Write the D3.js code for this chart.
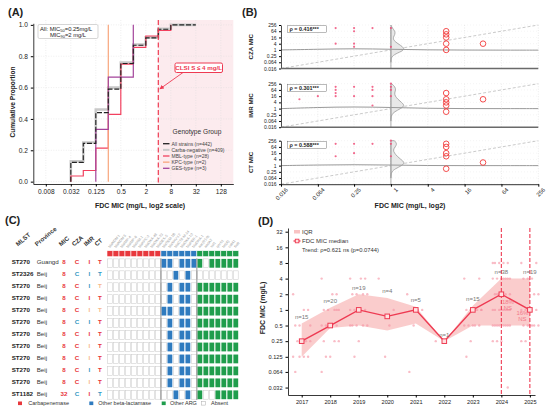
<!DOCTYPE html>
<html>
<head>
<meta charset="utf-8">
<script src="https://cdn.jsdelivr.net/npm/d3@7"></script>
<style>
body { margin: 0; background: #fff; }
svg { font-family: "Liberation Sans", Arial, sans-serif; }
</style>
</head>
<body>
<svg id="fig" width="550" height="411"></svg>
<script>
// ---------- Panel A: cumulative FDC MIC by genotype ----------
const aTickVals = [2 ** -7, 2 ** -5, 2 ** -3, 2 ** -1, 2, 8, 32, 128];
const aTickLabels = ["0.008", "0.032", "0.125", "0.5", "2", "8", "32", "128"];
const micSteps = [0.03125, 0.0625, 0.125, 0.25, 0.5, 1, 2, 4, 8];
const allCum = [0.123, 0.244, 0.44, 0.59, 0.754, 0.87, 0.917, 0.972, 1.0];
const carbaCum = [0.13, 0.25, 0.46, 0.60, 0.76, 0.875, 0.92, 0.975, 1.0];
const mblCum = [0.036, 0.071, 0.214, 0.429, 0.75, 0.857, 0.929, 0.964, 1.0];
const kpcMic = [0.25];
const kpcCum = [1.0];
const gesMic = [0.125, 0.25, 1];
const gesCum = [0.333, 0.667, 1.0];
const groupLabels = ["All strains (n=442)", "Carba-negative (n=409)", "MBL-type (n=28)", "KPC-type (n=2)", "GES-type (n=3)"];

// ---------- Panel B: FDC vs comparators ----------
const bTicks = [0.016, 0.064, 0.25, 1, 4, 16, 64, 256];
const bNames = ["CZA MIC", "IMR MIC", "CT MIC"];
const bRho = ["ρ = 0.416***", "ρ = 0.301***", "ρ = 0.588***"];
const czaDotX = [0.125, 0.125, 0.25, 0.25, 0.25, 0.25, 0.5, 1, 1];
const czaDotY = [128, 4, 128, 64, 4, 2, 128, 128, 2];
const imrDotX = [0.032, 0.064, 0.125, 0.125, 0.125, 0.125, 0.25, 0.25, 0.5, 0.5, 0.5, 0.5, 1, 1, 1, 1];
const imrDotY = [8, 16, 128, 64, 32, 16, 128, 16, 128, 64, 16, 2, 256, 128, 64, 16];
const ctDotX = [0.032, 0.125, 0.125, 0.25, 0.25, 0.5, 1, 1, 1];
const ctDotY = [64, 128, 8, 128, 16, 128, 256, 128, 8];
const czaResX = [8, 8, 8, 8, 8, 32];
const czaResY = [64, 32, 16, 4, 1, 4];
const imrResX = [8, 8, 8, 8, 8, 32];
const imrResY = [32, 8, 4, 2, 0.5, 8];
const ctResX = [8, 8, 8, 8, 8, 32];
const ctResY = [128, 64, 16, 8, 0.5, 2];
const densLevels = [256, 128, 64, 32, 16, 8, 4, 2, 1, 0.5, 0.25, 0.125, 0.064];
const czaDens = [0, 0.1, 0.3, 0.3, 0.15, 0.2, 0.5, 0.85, 1.0, 0.45, 0.08, 0, 0];
const imrDens = [0.05, 0.3, 0.35, 0.25, 0.3, 0.5, 0.75, 1.0, 0.7, 0.25, 0.05, 0, 0];
const ctDens = [0.25, 0.45, 0.3, 0.15, 0.25, 0.45, 0.7, 1.0, 0.8, 0.3, 0.05, 0, 0];
const fitX = [0.016, 0.064, 0.25, 1, 4, 16, 64, 256];
const czaFit = [1.0, 1.15, 1.35, 1.15, 1.0, 0.97, 0.95, 0.95];
const imrFit = [1.0, 1.3, 1.5, 1.3, 1.05, 1.0, 1.0, 1.0];
const ctFit = [1.0, 1.15, 1.25, 1.15, 1.0, 1.0, 1.0, 1.0];

// ---------- Panel C: resistant isolates ----------
const cHeaders = ["MLST", "Province", "MIC", "CZA", "IMR", "CT"];
const genes = ["blaNDM-1", "blaNDM-5", "blaIMP-4", "blaIMP-8", "blaVIM-1", "blaKPC-2", "blaOXA-48", "blaOXA-23", "blaGES-5",
  "blaTEM-1B", "blaSHV-12", "blaCTX-M-14", "blaOXA-10", "blaPER-1", "blaDHA-1",
  "aac(6')-Ib", "aadA2", "sul1", "qnrS1", "tet(A)", "catA1", "floR"];
const geneClass = ["C", "C", "C", "C", "C", "C", "C", "C", "C", "B", "B", "B", "B", "B", "B", "G", "G", "G", "G", "G", "G", "G"];
const mlst = ["ST270", "ST2326", "ST270", "ST270", "ST270", "ST270", "ST270", "ST270", "ST270", "ST270", "ST270", "ST1182"];
const province = ["Guangd", "Beij", "Beij", "Beij", "Beij", "Beij", "Beij", "Beij", "Beij", "Beij", "Beij", "Beij"];
const isoMic = [8, 8, 8, 8, 8, 8, 8, 8, 8, 8, 8, 32];
const czaCall = ["R", "S", "R", "R", "R", "S", "R", "R", "R", "R", "R", "S"];
const imrCall = ["R", "S", "S", "R", "I", "S", "R", "I", "I", "S", "I", "R"];
const ctCall = ["R", "S", "I", "R", "I", "R", "R", "R", "R", "R", "R", "S"];
const geneRows = [
  "000000000" + "110111" + "1011111",
  "000000000" + "001010" + "0000000",
  "000000000" + "010110" + "1111111",
  "000000000" + "010110" + "1111111",
  "000000000" + "110110" + "1111111",
  "000000000" + "010110" + "1111111",
  "000000000" + "010110" + "1111111",
  "000000000" + "010110" + "1111111",
  "000000000" + "010110" + "1111111",
  "000000000" + "010110" + "1111111",
  "000000000" + "010110" + "1111111",
  "000000000" + "001010" + "1001111"
];
const cLegend = ["Carbapenemase", "Other beta-lactamase", "Other ARG", "Absent"];

// ---------- Panel D: yearly trend ----------
const years = [2017, 2018, 2019, 2020, 2021, 2022, 2023, 2024, 2025];
const yearN = [15, 20, 19, 4, 5, 1, 15, 38, 19];
const medianMic = [0.25, 0.5, 1, 0.75, 1, 0.25, 1, 2, 1];
const iqrLow = [0.125, 0.45, 0.5, 0.4, 0.55, 0.25, 0.5, 0.5, 0.5];
const iqrHigh = [0.55, 1.1, 2, 1.7, 1.15, 0.25, 1.2, 4, 4];
const yearPoints = [
  [2, 1, 1, 0.5, 0.5, 0.5, 0.25, 0.25, 0.25, 0.125, 0.125, 0.125, 0.125, 0.064, 0.25],
  [4, 2, 2, 1, 1, 1, 1, 0.5, 0.5, 0.5, 0.5, 0.5, 0.5, 0.25, 0.25, 0.25, 0.125, 0.125, 0.064, 1],
  [4, 4, 4, 2, 2, 2, 2, 1, 1, 1, 1, 1, 0.5, 0.5, 0.5, 0.5, 0.25, 0.125, 0.5],
  [4, 1, 0.5, 0.125],
  [2, 1, 1, 0.5, 0.064],
  [0.25],
  [4, 4, 1, 1, 1, 1, 1, 0.5, 0.5, 0.5, 0.5, 0.5, 0.25, 0.125, 1],
  [8, 8, 8, 8, 8, 4, 4, 4, 4, 4, 4, 4, 2, 2, 2, 2, 2, 2, 1, 1, 1, 1, 1, 1, 1, 1, 0.5, 0.5, 0.5, 0.5, 0.5, 0.5, 0.5, 0.5, 0.25, 0.25, 0.25, 0.032],
  [8, 8, 4, 4, 4, 2, 2, 1, 1, 1, 1, 0.5, 0.5, 0.5, 0.5, 0.5, 0.5, 0.25, 0.25]
];
const dTicks = [0.032, 0.064, 0.125, 0.25, 0.5, 1, 2, 4, 8, 16, 32];
const highlightYears = [2024, 2025];
const highlightPct = ["18%", "16%"];

const RED = "#ee3a52";
const svg = d3.select("#fig");

function label(g, x, y, txt, size, opts = {}) {
  return g.append("text").attr("x", x).attr("y", y)
    .attr("font-size", size)
    .attr("font-weight", opts.bold ? "bold" : null)
    .attr("fill", opts.fill || "#222")
    .attr("text-anchor", opts.anchor || "start")
    .text(txt);
}

// ================= Panel A =================
const gA = svg.append("g");
const aX = d3.scaleLog().base(2).domain([2 ** -8, 2 ** 8]).range([33.3, 233.3]);
const aY = d3.scaleLinear().domain([-0.015, 1.01]).range([184, 23.3]);

gA.append("rect").attr("x", aX(4)).attr("y", 20)
  .attr("width", aX(256) - aX(4)).attr("height", 164).attr("fill", "#fcebee");

gA.selectAll(".vg").data(aTickVals).join("line")
  .attr("x1", d => aX(d)).attr("x2", d => aX(d)).attr("y1", 20).attr("y2", 184)
  .attr("stroke", "#dcdcdc").attr("stroke-width", 0.5).attr("stroke-dasharray", "1,1.5");
gA.selectAll(".hg").data([0, 0.2, 0.4, 0.6, 0.8, 1]).join("line")
  .attr("x1", 33.3).attr("x2", 233.3).attr("y1", d => aY(d)).attr("y2", d => aY(d))
  .attr("stroke", "#dcdcdc").attr("stroke-width", 0.5).attr("stroke-dasharray", "1,1.5");

const yAxA = gA.append("g").attr("transform", "translate(33.3,0)")
  .call(d3.axisLeft(aY).tickValues([0, 0.2, 0.4, 0.6, 0.8, 1]).tickFormat(d3.format(".1f")).tickSize(2.5).tickSizeOuter(0));
const xAxA = gA.append("g").attr("transform", "translate(0,184)")
  .call(d3.axisBottom(aX).tickValues(aTickVals).tickFormat((d, i) => aTickLabels[i]).tickSize(2.5).tickSizeOuter(0));
[yAxA, xAxA].forEach(ax => {
  ax.selectAll("text").attr("font-size", 6.6).attr("fill", "#222");
  ax.select(".domain").attr("stroke", "#222").attr("stroke-width", 0.9);
});

const stepLine = d3.line().x(d => aX(d[0])).y(d => aY(d[1])).curve(d3.curveStepAfter);
function stepPts(mics, cums, endX) {
  const pts = [[mics[0], 0]];
  mics.forEach((m, i) => pts.push([m, cums[i]]));
  if (endX) pts.push([endX, cums[cums.length - 1]]);
  return pts;
}
const aSeries = [
  { pts: stepPts(micSteps, carbaCum, 32), color: "#c9c9c9", w: 2.6, dash: null },
  { pts: stepPts(micSteps, mblCum), color: "#f2415f", w: 1.2, dash: null },
  { pts: stepPts(kpcMic, kpcCum), color: "#f8a57c", w: 1.2, dash: null },
  { pts: stepPts(gesMic, gesCum), color: "#a4449b", w: 1.2, dash: null },
  { pts: stepPts(micSteps, allCum, 32), color: "#222", w: 1.1, dash: "5,1.8" }
];
aSeries.forEach(s => {
  gA.append("path").attr("d", stepLine(s.pts)).attr("fill", "none")
    .attr("stroke", s.color).attr("stroke-width", s.w).attr("stroke-dasharray", s.dash);
});

// CLSI breakpoint
gA.append("line").attr("x1", aX(4)).attr("x2", aX(4)).attr("y1", 20).attr("y2", 184)
  .attr("stroke", RED).attr("stroke-width", 1.2).attr("stroke-dasharray", "5,2.5");
svg.append("defs").append("marker").attr("id", "arr").attr("viewBox", "0 0 10 10")
  .attr("refX", 9).attr("refY", 5).attr("markerWidth", 5).attr("markerHeight", 5).attr("orient", "auto")
  .append("path").attr("d", "M0,0L10,5L0,10z").attr("fill", RED);
gA.append("line").attr("x1", 183).attr("y1", 72.5).attr("x2", aX(4) + 1.5).attr("y2", 89)
  .attr("stroke", RED).attr("stroke-width", 0.9).attr("marker-end", "url(#arr)");
gA.append("rect").attr("x", 175).attr("y", 63).attr("width", 47.5).attr("height", 9.5).attr("rx", 1.5)
  .attr("fill", "#fff").attr("stroke", RED).attr("stroke-width", 1);
label(gA, 198.7, 70.3, "CLSI S ≤ 4 mg/L", 6.2, { bold: true, fill: RED, anchor: "middle" });

// MIC50/90 box
gA.append("rect").attr("x", 38).attr("y", 24.5).attr("width", 60).attr("height", 14).attr("rx", 1.5)
  .attr("fill", "#fff").attr("stroke", "#bbb").attr("stroke-width", 0.6);
const t1 = gA.append("text").attr("x", 40).attr("y", 30.6).attr("font-size", 5.8).attr("fill", "#222");
t1.append("tspan").text("All: MIC");
t1.append("tspan").attr("font-size", 4).attr("dy", 1.2).text("50");
t1.append("tspan").attr("dy", -1.2).text("=0.25mg/L");
const t2 = gA.append("text").attr("x", 68).attr("y", 36.8).attr("font-size", 5.8).attr("fill", "#222").attr("text-anchor", "middle");
t2.append("tspan").text("MIC");
t2.append("tspan").attr("font-size", 4).attr("dy", 1.2).text("90");
t2.append("tspan").attr("dy", -1.2).text("=2 mg/L");

// legend
label(gA, 197, 133.5, "Genotype Group", 6.6, { fill: "#333", anchor: "middle" });
const legOrder = [4, 0, 1, 2, 3];
legOrder.forEach((si, i) => {
  const s = aSeries[si];
  const y = 143.7 + i * 6.15;
  gA.append("line").attr("x1", 163).attr("x2", 169.5).attr("y1", y).attr("y2", y)
    .attr("stroke", s.color).attr("stroke-width", si === 0 ? 2 : 1.3);
  label(gA, 171.5, y + 1.8, groupLabels[i], 5, { fill: "#444" });
});

label(gA, 8, 16, "(A)", 11, { bold: true });
label(gA, 140, 207.5, "FDC MIC (mg/L, log2 scale)", 7, { bold: true, anchor: "middle" });
label(gA, 0, 0, "Cumulative Proportion", 6.6, { bold: true, anchor: "middle" })
  .attr("transform", "translate(14.5,102) rotate(-90)");

// ================= Panel B =================
const gB = svg.append("g");
const bX = d3.scaleLog().base(2).domain([0.016, 256]).range([281, 538.3]);
const bTops = [25, 83.7, 140.7];
const bH = 43.5;
const bDots = [[czaDotX, czaDotY], [imrDotX, imrDotY], [ctDotX, ctDotY]];
const bRes = [[czaResX, czaResY], [imrResX, imrResY], [ctResX, ctResY]];
const bDens = [czaDens, imrDens, ctDens];
const bFit = [czaFit, imrFit, ctFit];
const densW = d3.scaleLinear().domain([0, 1]).range([0, 14]);

bTops.forEach((top, k) => {
  const bottom = top + bH;
  const bY = d3.scaleLog().base(2).domain([0.016, 256]).range([bottom, top]);
  const g = gB.append("g");

  g.selectAll(".vg").data(bTicks).join("line")
    .attr("x1", d => bX(d)).attr("x2", d => bX(d)).attr("y1", top).attr("y2", bottom)
    .attr("stroke", "#d6d6d6").attr("stroke-width", 0.5).attr("stroke-dasharray", "1,1.5");
  g.selectAll(".hg").data(bTicks).join("line")
    .attr("x1", bX(0.016)).attr("x2", bX(256)).attr("y1", d => bY(d)).attr("y2", d => bY(d))
    .attr("stroke", "#e6e6e6").attr("stroke-width", 0.4).attr("stroke-dasharray", "1,2");

  // identity line
  g.append("line").attr("x1", bX(0.016)).attr("y1", bY(0.016)).attr("x2", bX(256)).attr("y2", bY(256))
    .attr("stroke", "#c4c4c4").attr("stroke-width", 0.9).attr("stroke-dasharray", "3,2");

  // density of comparator MIC, drawn at FDC = 1
  const dens = densLevels.map((v, i) => [v, bDens[k][i]]);
  g.append("path")
    .attr("d", d3.area().y(d => bY(d[0])).x0(bX(1)).x1(d => bX(1) + densW(d[1])).curve(d3.curveBasis)(dens))
    .attr("fill", "#e8e8e8").attr("stroke", "#999").attr("stroke-width", 0.8);
  g.append("line").attr("x1", bX(1)).attr("x2", bX(1)).attr("y1", top + 2).attr("y2", bottom)
    .attr("stroke", "#999").attr("stroke-width", 0.8);

  // fitted trend
  g.append("path")
    .attr("d", d3.line().x(d => bX(d[0])).y(d => bY(d[1])).curve(d3.curveBasis)(fitX.map((x, i) => [x, bFit[k][i]])))
    .attr("fill", "none").attr("stroke", "#9a9a9a").attr("stroke-width", 1);

  const [dx, dy] = bDots[k];
  g.selectAll(".dot").data(dx).join("circle")
    .attr("cx", d => bX(d)).attr("cy", (d, i) => bY(dy[i])).attr("r", 1.1)
    .attr("fill", "#f0507a").attr("opacity", 0.85);
  const [rx, ry] = bRes[k];
  g.selectAll(".res").data(rx).join("circle")
    .attr("cx", d => bX(d)).attr("cy", (d, i) => bY(ry[i])).attr("r", 2.8)
    .attr("fill", "none").attr("stroke", "#f23a3a").attr("stroke-width", 0.9);

  const ax = g.append("g").attr("transform", "translate(281,0)")
    .call(d3.axisLeft(bY).tickValues(bTicks).tickFormat(d => String(d)).tickSize(2).tickSizeOuter(0));
  ax.selectAll("text").attr("font-size", 5).attr("fill", "#222").attr("dx", "0.1em");
  ax.select(".domain").attr("stroke", "#222").attr("stroke-width", 0.8);

  if (k < 2) {
    g.append("line").attr("x1", 281).attr("x2", 538.3).attr("y1", bottom).attr("y2", bottom)
      .attr("stroke", "#6a6a6a").attr("stroke-width", 1.6);
  } else {
    const xa = g.append("g").attr("transform", `translate(0,${bottom})`)
      .call(d3.axisBottom(bX).tickValues(bTicks).tickFormat(d => String(d)).tickSize(2.5).tickSizeOuter(0));
    xa.select(".domain").attr("stroke", "#333").attr("stroke-width", 1);
    xa.selectAll("text").attr("font-size", 5.8).attr("fill", "#222")
      .attr("text-anchor", "end").attr("transform", "rotate(-45)").attr("dx", "0.1em").attr("dy", "0.6em");
  }

  g.append("rect").attr("x", 287.5).attr("y", top + 0.8).attr("width", 39).attr("height", 6.8)
    .attr("fill", "#fff").attr("stroke", "#555").attr("stroke-width", 0.4);
  label(g, 289.5, top + 6.2, bRho[k], 5.4, { bold: true });

  label(g, 0, 0, bNames[k], 6.2, { bold: true, anchor: "middle" })
    .attr("transform", `translate(253,${top + bH / 2}) rotate(-90)`);
});
label(gB, 242, 16, "(B)", 11, { bold: true });
label(gB, 410, 207.5, "FDC MIC (mg/L, log2)", 7, { bold: true, anchor: "middle" });

// ================= Panel C =================
const gC = svg.append("g");
const classColor = { C: "#e8383d", B: "#2f7bbf", G: "#1f9d4c" };
const callColor = { R: "#e8333a", I: "#f7b88c", S: "#3499c4" };
const colX = d3.scaleLinear().domain([0, genes.length]).range([107, 107 + 22 * 5.99]);
const rowY = d3.scaleLinear().domain([0, mlst.length - 1]).range([263.3, 394.8]);

label(gC, 5, 224, "(C)", 11, { bold: true });
const hx = [18, 37, 61, 74, 86, 96.7];
cHeaders.forEach((h, i) => {
  label(gC, 0, 0, h, 6.2, { bold: true, fill: "#333" })
    .attr("transform", `translate(${hx[i]},246.5) rotate(-40)`);
});
genes.forEach((gname, j) => {
  label(gC, 0, 0, gname, 3.6, { fill: "#999" })
    .attr("transform", `translate(${colX(j) + 3},248) rotate(-50)`);
  gC.append("rect").attr("x", colX(j)).attr("y", 250.7).attr("width", 5.99).attr("height", 6)
    .attr("fill", classColor[geneClass[j]]).attr("stroke", "#fff").attr("stroke-width", 0.6);
});

mlst.forEach((m, i) => {
  const y = rowY(i);
  label(gC, 11.7, y + 0.9, m, 6.2, { bold: true });
  label(gC, 36.7, y + 0.9, province[i], 6.2, { fill: "#333" });
  label(gC, 64, y + 0.9, isoMic[i], 6.2, { bold: true, fill: callColor.R, anchor: "middle" });
  label(gC, 77, y + 0.9, "C", 6.2, { bold: true, fill: callColor[czaCall[i]], anchor: "middle" });
  label(gC, 89.3, y + 0.9, "I", 6.2, { bold: true, fill: callColor[imrCall[i]], anchor: "middle" });
  label(gC, 100, y + 0.9, "T", 6.2, { bold: true, fill: callColor[ctCall[i]], anchor: "middle" });
  geneRows[i].split("").forEach((c, j) => {
    const on = c === "1";
    gC.append("rect").attr("x", colX(j) + 0.6).attr("y", y - 4.4).attr("width", 4.8).attr("height", 8.8)
      .attr("fill", on ? classColor[geneClass[j]] : "#fff")
      .attr("stroke", on ? "none" : "#c8c8c8").attr("stroke-width", 0.5);
  });
});
[9, 15].forEach(j => {
  gC.append("line").attr("x1", colX(j)).attr("x2", colX(j)).attr("y1", 258.3).attr("y2", 400)
    .attr("stroke", "#777").attr("stroke-width", 0.8);
});
const legX = [18, 89.3, 161.7, 201.7];
const legTx = [28.3, 98.3, 170, 211];
const legCol = [classColor.C, classColor.B, classColor.G, "#fff"];
cLegend.forEach((t, i) => {
  gC.append("rect").attr("x", legX[i]).attr("y", 401.5).attr("width", 4).attr("height", 3.6)
    .attr("fill", legCol[i]).attr("stroke", i === 3 ? "#aaa" : "none").attr("stroke-width", 0.5);
  label(gC, legTx[i], 405.3, t, 5.5, { fill: "#333" });
});

// ================= Panel D =================
const gD = svg.append("g");
const dX = d3.scaleLinear().domain([2016.52, 2025.18]).range([288, 535]);
const dY = d3.scaleLog().base(2).domain([0.023, 37.7]).range([395, 228]);

label(gD, 258, 225, "(D)", 11, { bold: true });

gD.append("path")
  .attr("d", d3.area().x((d, i) => dX(years[i])).y0((d, i) => dY(iqrLow[i])).y1((d, i) => dY(iqrHigh[i]))(years))
  .attr("fill", "#f9c3c3").attr("opacity", 0.85);

yearPoints.forEach((pts, yi) => {
  gD.selectAll(null).data(pts).join("circle")
    .attr("cx", (d, i) => dX(years[yi] + ((i * 7) % 9 - 4) * 0.075))
    .attr("cy", d => dY(d)).attr("r", 1.2)
    .attr("fill", "#f58fa0").attr("opacity", 0.6);
});

highlightYears.forEach(yr => {
  gD.append("line").attr("x1", dX(yr)).attr("x2", dX(yr)).attr("y1", 228).attr("y2", 395)
    .attr("stroke", RED).attr("stroke-width", 1.1).attr("stroke-dasharray", "4,2");
});

gD.append("path")
  .attr("d", d3.line().x((d, i) => dX(years[i])).y(d => dY(d))(medianMic))
  .attr("fill", "none").attr("stroke", RED).attr("stroke-width", 1.4);
gD.selectAll(".med").data(medianMic).join("rect")
  .attr("x", (d, i) => dX(years[i]) - 2.3).attr("y", d => dY(d) - 2.3)
  .attr("width", 4.6).attr("height", 4.6)
  .attr("fill", "#ffe0e0").attr("stroke", RED).attr("stroke-width", 1);

yearN.forEach((n, i) => {
  label(gD, dX(years[i]), dY(Math.max(iqrHigh[i], medianMic[i])) - 4.5, "n=" + n, 6, { fill: "#777", anchor: "middle" });
});

const pctPos = [[2024.23, 1.3], [2024.74, 0.78]];
highlightPct.forEach((p, i) => {
  const [px, py] = pctPos[i];
  label(gD, dX(px), dY(py), p, 6, { fill: "#f27a8a", anchor: "middle" });
  label(gD, dX(px), dY(py) + 6, "NS", 6, { fill: "#f27a8a", anchor: "middle" });
});

const yAxD = gD.append("g").attr("transform", "translate(288,0)")
  .call(d3.axisLeft(dY).tickValues(dTicks).tickFormat(d => String(d)).tickSize(2.5).tickSizeOuter(0));
const xAxD = gD.append("g").attr("transform", "translate(0,395)")
  .call(d3.axisBottom(dX).tickValues(years).tickFormat(d3.format("d")).tickSize(2.5).tickSizeOuter(0));
[yAxD, xAxD].forEach(ax => {
  ax.selectAll("text").attr("font-size", 5.6).attr("fill", "#222");
  ax.select(".domain").attr("stroke", "#222").attr("stroke-width", 0.9);
});

// legend
gD.append("rect").attr("x", 294).attr("y", 230).attr("width", 6).attr("height", 3.5).attr("fill", "#f9c3c3");
label(gD, 302, 233.5, "IQR", 6, { fill: "#333" });
gD.append("line").attr("x1", 293.5).attr("x2", 300.5).attr("y1", 241).attr("y2", 241).attr("stroke", RED).attr("stroke-width", 1.3);
gD.append("rect").attr("x", 295.3).attr("y", 239.2).attr("width", 3.6).attr("height", 3.6)
  .attr("fill", "#ffe0e0").attr("stroke", RED).attr("stroke-width", 0.9);
label(gD, 302, 243, "FDC MIC median", 6, { fill: "#333" });
label(gD, 302, 251.5, "Trend: ρ=0.621 ns (p=0.0744)", 5.8, { fill: "#333" });

label(gD, 0, 0, "FDC MIC (mg/L)", 7, { bold: true, anchor: "middle" })
  .attr("transform", "translate(265,308) rotate(-90)");
</script>
</body>
</html>
